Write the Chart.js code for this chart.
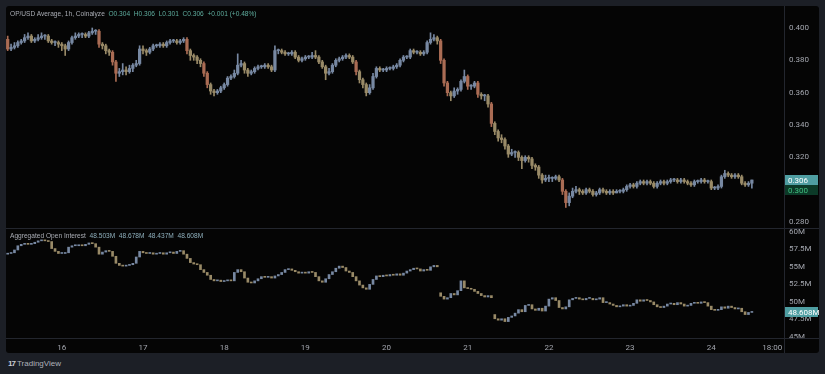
<!DOCTYPE html>
<html><head><meta charset="utf-8">
<script src="https://cdn.jsdelivr.net/npm/chart.js"></script>
<style>
html,body{margin:0;padding:0;background:#1c1f26;width:825px;height:374px;overflow:hidden;font-family:"Liberation Sans",Arial,sans-serif;}
#panel{position:absolute;left:6px;top:6px;width:813px;height:347px;background:#050505;border-radius:3px;}
canvas{position:absolute;left:6px;}
#cTop{top:6px;}
#cBot{top:228px;}
.hline{position:absolute;left:6px;width:813px;height:1px;background:#23262e;}
.vline{position:absolute;left:784px;top:6px;width:1px;height:347px;background:#23262e;}
.hdr{position:absolute;left:10px;font-size:6.6px;color:#a9acb4;white-space:pre;line-height:8px;}
.hdr .v{color:#5fae9f;}
.hdr .w{color:#8fb0bd;}
#foot{position:absolute;left:8px;top:359px;font-size:8px;color:#aeb1b9;white-space:pre;line-height:10px;}
#foot b{font-size:8px;letter-spacing:-1px;color:#c9ccd3;}
</style></head>
<body>
<div id="panel"></div>
<canvas id="cTop" width="813" height="222"></canvas>
<canvas id="cBot" width="813" height="125"></canvas>
<div class="hline" style="top:228px"></div>
<div class="hline" style="top:338px"></div>
<div class="vline"></div>
<div class="hdr" style="top:10px">OP/USD Average, 1h, Coinalyze  <span class="v">O0.304  H0.306  L0.301  C0.306  +0.001 (+0.48%)</span></div>
<div class="hdr" style="top:232px">Aggregated Open Interest  <span class="w">48.503M  48.678M  48.437M  48.608M</span></div>
<div id="foot"><b>17</b> TradingView</div>
<script>
// ---- time axis: hourly candles starting day 15 08:00 ----
const startDay = 15, startHour = 8, slotCount = 230;
const endTickLabel = '18:00';

// ---- OP/USD price (hourly) ----
const priceOpen = [.393,.387,.388,.389,.391,.392,.394,.395,.392,.393,
 .394,.395,.395,.392,.391,.391,.390,.389,.387,.391,
 .394,.395,.396,.396,.395,.397,.398,.398,.390,.389,
 .386,.385,.379,.372,.373,.374,.373,.375,.377,.378,
 .387,.386,.385,.387,.389,.389,.390,.389,.391,.392,
 .392,.391,.392,.393,.386,.383,.382,.380,.378,.372,
 .365,.361,.360,.361,.363,.365,.369,.370,.372,.377,
 .378,.374,.372,.373,.375,.376,.376,.377,.376,.374,
 .386,.386,.385,.384,.384,.385,.382,.380,.381,.382,
 .382,.383,.382,.379,.376,.372,.373,.377,.380,.381,
 .382,.383,.382,.379,.373,.368,.365,.360,.363,.370,
 .375,.374,.374,.375,.375,.376,.377,.380,.382,.382,
 .386,.385,.385,.384,.385,.391,.393,.394,.392,.380,
 .366,.360,.358,.361,.362,.367,.370,.364,.364,.366,
 .359,.358,.358,.353,.341,.336,.332,.331,.327,.322,
 .323,.323,.320,.318,.320,.319,.315,.314,.309,.306,
 .307,.307,.307,.308,.306,.299,.292,.296,.299,.300,
 .299,.298,.300,.299,.297,.298,.300,.299,.298,.299,
 .298,.299,.299,.300,.302,.303,.302,.304,.305,.304,
 .305,.304,.302,.304,.305,.304,.305,.306,.306,.305,
 .306,.305,.304,.303,.305,.305,.306,.305,.305,.301,
 .301,.302,.308,.310,.309,.308,.309,.308,.304,.303,
 .304];
const priceHigh = [.395,.390,.391,.392,.393,.396,.397,.396,.394,.396,
 .397,.396,.396,.393,.392,.392,.391,.390,.392,.395,
 .397,.397,.397,.397,.398,.400,.399,.399,.391,.390,
 .387,.386,.380,.375,.378,.376,.377,.378,.380,.389,
 .389,.387,.388,.390,.390,.391,.391,.392,.393,.393,
 .393,.393,.394,.394,.387,.384,.383,.381,.379,.373,
 .366,.362,.362,.364,.366,.370,.371,.374,.384,.380,
 .379,.375,.374,.376,.377,.377,.378,.378,.377,.389,
 .387,.387,.386,.385,.386,.386,.383,.382,.383,.383,
 .385,.386,.383,.380,.377,.375,.378,.381,.382,.383,
 .384,.384,.383,.380,.374,.369,.366,.365,.372,.376,
 .376,.375,.376,.376,.377,.378,.381,.383,.383,.387,
 .387,.386,.386,.386,.392,.397,.396,.395,.393,.381,
 .367,.361,.363,.363,.368,.374,.371,.365,.367,.367,
 .360,.359,.359,.354,.342,.337,.334,.332,.328,.325,
 .324,.324,.321,.321,.321,.320,.316,.315,.310,.309,
 .309,.308,.309,.309,.307,.300,.298,.301,.302,.301,
 .300,.301,.301,.300,.299,.301,.301,.300,.300,.300,
 .300,.300,.301,.303,.304,.304,.305,.306,.306,.306,
 .306,.305,.305,.306,.306,.306,.307,.307,.307,.307,
 .307,.306,.305,.306,.306,.307,.307,.306,.306,.302,
 .303,.309,.312,.311,.310,.310,.310,.309,.305,.305,
 .306];
const priceLow = [.386,.386,.387,.388,.390,.391,.393,.391,.391,.392,
 .393,.393,.391,.390,.389,.388,.386,.383,.386,.390,
 .393,.394,.394,.394,.394,.396,.396,.388,.387,.384,
 .383,.377,.367,.370,.371,.371,.372,.373,.376,.377,
 .384,.383,.384,.386,.388,.388,.388,.388,.390,.391,
 .390,.390,.391,.384,.380,.380,.378,.376,.370,.363,
 .359,.358,.359,.360,.362,.364,.368,.369,.371,.376,
 .372,.370,.371,.372,.374,.375,.375,.375,.373,.373,
 .384,.384,.383,.383,.383,.381,.379,.379,.380,.381,
 .381,.381,.378,.375,.368,.371,.372,.376,.379,.380,
 .381,.381,.378,.371,.366,.363,.358,.359,.362,.369,
 .373,.373,.373,.374,.374,.375,.376,.379,.381,.381,
 .384,.384,.383,.383,.384,.390,.392,.390,.378,.364,
 .358,.355,.357,.359,.361,.366,.362,.362,.363,.357,
 .356,.355,.351,.339,.334,.330,.329,.325,.320,.321,
 .320,.318,.313,.317,.317,.313,.312,.307,.304,.305,
 .305,.305,.306,.305,.297,.289,.290,.295,.298,.297,
 .297,.297,.298,.296,.296,.297,.298,.297,.297,.297,
 .298,.298,.298,.299,.301,.301,.301,.303,.303,.303,
 .303,.301,.301,.303,.303,.303,.304,.305,.304,.304,
 .304,.303,.302,.302,.304,.304,.304,.304,.300,.300,
 .300,.301,.307,.308,.307,.307,.307,.303,.302,.302,
 .301];
const priceClose = [.387,.388,.389,.391,.392,.394,.395,.392,.393,.394,
 .395,.395,.392,.391,.391,.390,.389,.387,.391,.394,
 .395,.396,.396,.395,.397,.398,.398,.390,.389,.386,
 .385,.379,.372,.373,.374,.373,.375,.377,.378,.387,
 .386,.385,.387,.389,.389,.390,.389,.391,.392,.392,
 .391,.392,.393,.386,.383,.382,.380,.378,.372,.365,
 .361,.360,.361,.363,.365,.369,.370,.372,.377,.378,
 .374,.372,.373,.375,.376,.376,.377,.376,.374,.386,
 .386,.385,.384,.384,.385,.382,.380,.381,.382,.382,
 .383,.382,.379,.376,.372,.373,.377,.380,.381,.382,
 .383,.382,.379,.373,.368,.365,.360,.363,.370,.375,
 .374,.374,.375,.375,.376,.377,.380,.382,.382,.386,
 .385,.385,.384,.385,.391,.393,.394,.392,.380,.366,
 .360,.358,.361,.362,.367,.370,.364,.364,.366,.359,
 .358,.358,.353,.341,.336,.332,.331,.327,.322,.323,
 .323,.320,.318,.320,.319,.315,.314,.309,.306,.307,
 .307,.307,.308,.306,.299,.292,.296,.299,.300,.299,
 .298,.300,.299,.297,.298,.300,.299,.298,.299,.298,
 .299,.299,.300,.302,.303,.302,.304,.305,.304,.305,
 .304,.302,.304,.305,.304,.305,.306,.306,.305,.306,
 .305,.304,.303,.305,.305,.306,.305,.305,.301,.301,
 .302,.308,.310,.309,.308,.309,.308,.304,.303,.304,
 .306];
const priceTicks = [0.28, 0.30, 0.32, 0.34, 0.36, 0.38, 0.40];
const priceMarker = 0.300;

// ---- Aggregated open interest, millions (hourly) ----
const oiOpen = [56.8,56.9,57.0,57.4,58.0,58.2,58.3,58.2,58.3,58.5,
 58.7,58.8,58.7,58.6,57.6,57.2,56.9,56.9,57.0,57.8,
 58.0,58.0,58.1,58.0,58.2,58.4,58.3,57.8,56.8,57.1,
 57.3,57.2,56.5,55.5,55.2,55.1,55.2,55.3,55.5,56.4,
 57.2,57.0,56.9,57.0,56.8,56.9,57.0,56.8,57.0,57.1,
 56.9,57.2,57.3,56.8,56.2,55.6,55.4,55.3,54.6,54.2,
 53.8,53.2,53.0,53.1,52.9,53.0,53.1,53.0,54.2,54.6,
 54.3,53.4,52.8,52.7,53.0,53.3,53.6,53.5,53.6,53.4,
 53.7,53.9,54.2,54.6,54.7,54.5,54.3,54.1,54.2,54.1,
 54.3,54.2,53.6,53.0,52.8,53.3,53.9,54.3,54.8,55.1,
 54.9,54.4,54.2,53.6,53.0,52.4,52.0,51.8,52.5,53.2,
 53.7,53.6,53.8,53.7,53.9,53.8,54.0,53.8,54.1,54.4,
 54.6,54.8,54.7,54.4,54.6,54.5,55.0,55.2,51.3,50.8,
 50.4,50.6,51.2,51.0,51.6,53.0,52.0,51.9,51.8,51.5,
 51.2,50.9,50.7,50.9,48.2,47.6,47.4,47.6,47.2,47.8,
 48.0,48.4,48.9,48.6,49.5,49.6,49.0,48.8,49.1,48.7,
 49.4,50.4,50.6,50.2,49.2,49.0,49.3,50.3,50.5,50.6,
 50.4,50.3,50.5,50.5,50.3,50.4,50.6,49.9,49.9,49.7,
 49.5,49.3,49.4,49.6,49.4,49.5,49.8,50.3,50.1,50.3,
 50.2,50.0,49.6,49.3,49.2,49.4,49.7,49.8,49.6,49.9,
 49.7,49.4,49.5,49.8,49.9,49.8,50.0,49.9,49.4,48.9,
 48.8,48.9,49.3,49.1,49.4,49.2,49.0,49.1,48.6,48.2,
 48.503];
const oiClose = [56.9,57.0,57.4,58.0,58.2,58.3,58.2,58.3,58.5,58.7,
 58.8,58.7,58.6,57.6,57.2,56.9,56.9,57.0,57.8,58.0,
 58.0,58.1,58.0,58.2,58.4,58.3,57.8,56.8,57.1,57.3,
 57.2,56.5,55.5,55.2,55.1,55.2,55.3,55.5,56.4,57.2,
 57.0,56.9,57.0,56.8,56.9,57.0,56.8,57.0,57.1,56.9,
 57.2,57.3,56.8,56.2,55.6,55.4,55.3,54.6,54.2,53.8,
 53.2,53.0,53.1,52.9,53.0,53.1,53.0,54.2,54.6,54.3,
 53.4,52.8,52.7,53.0,53.3,53.6,53.5,53.6,53.4,53.7,
 53.9,54.2,54.6,54.7,54.5,54.3,54.1,54.2,54.1,54.3,
 54.2,53.6,53.0,52.8,53.3,53.9,54.3,54.8,55.1,54.9,
 54.4,54.2,53.6,53.0,52.4,52.0,51.8,52.5,53.2,53.7,
 53.6,53.8,53.7,53.9,53.8,54.0,53.8,54.1,54.4,54.6,
 54.8,54.7,54.4,54.6,54.5,55.0,55.2,55.0,50.8,50.4,
 50.6,51.2,51.0,51.6,53.0,52.0,51.9,51.8,51.5,51.2,
 50.9,50.7,50.9,50.6,47.6,47.4,47.6,47.2,47.8,48.0,
 48.4,48.9,48.6,49.5,49.6,49.0,48.8,49.1,48.7,49.4,
 50.4,50.6,50.2,49.2,49.0,49.3,50.3,50.5,50.6,50.4,
 50.3,50.5,50.5,50.3,50.4,50.6,49.9,49.9,49.7,49.5,
 49.3,49.4,49.6,49.4,49.5,49.8,50.3,50.1,50.3,50.2,
 50.0,49.6,49.3,49.2,49.4,49.7,49.8,49.6,49.9,49.7,
 49.4,49.5,49.8,49.9,49.8,50.0,49.9,49.4,48.9,48.8,
 48.9,49.3,49.1,49.4,49.2,49.0,49.1,48.6,48.2,48.5,
 48.608];
const oiTicks = [45, 47.5, 50, 52.5, 55, 57.5, 60];

// ---- styling ----
const UP = '#7788a2', DOWN = '#998a67', STRONG = '#aa6c54';
const AXIS_TXT = '#a3a6ae';
const pad = n => String(n).padStart(2, '0');
const labels = [];
for (let i = 0; i < slotCount; i++) {
  const h = startHour + i;
  labels.push((startDay + Math.floor(h / 24)) + ' ' + pad(h % 24) + ':00');
}
const lastDay = labels[labels.length - 1].split(' ')[0];
function tickText(lbl) {
  const [d, t] = lbl.split(' ');
  if (t === '00:00') return d;
  if (d === lastDay && t === endTickLabel) return endTickLabel;
  return null;
}
function colors(o, c, big) {
  return o.map((v, i) => c[i] >= v ? UP : ((v - c[i]) >= big ? STRONG : DOWN));
}
function boxPlugin(boxes) {
  return {
    id: 'boxes',
    afterDraw(chart) {
      const y = chart.scales.y, ctx = chart.ctx, r = chart.chartArea.right;
      boxes.forEach(b => {
        const py = Math.round(y.getPixelForValue(b.value));
        ctx.fillStyle = b.bg;
        ctx.fillRect(r + 1, py - 5, chart.width - r - 2, 10);
        ctx.fillStyle = b.fg;
        ctx.font = '8px Roboto';
        ctx.textBaseline = 'middle';
        ctx.textAlign = 'left';
        ctx.fillText(b.text, r + 4, py + 0.5);
      });
    }
  };
}
function baseOpts(yMin, yMax, ticks, fmt, showX) {
  return {
    responsive: false, animation: false, devicePixelRatio: 1,
    layout: { padding: 0 },
    plugins: { legend: { display: false }, tooltip: { enabled: false } },
    scales: {
      x: {
        type: 'category', offset: true, display: showX,
        grid: { display: false, drawTicks: false }, border: { display: false },
        ticks: { autoSkip: false, maxRotation: 0, padding: 5, color: AXIS_TXT, font: { size: 8, family: 'Roboto' } },
        afterBuildTicks: s => { s.ticks = s.ticks.filter(t => tickText(labels[t.value]) !== null); },
        afterTickToLabelConversion: s => { s.ticks.forEach(t => { t.label = tickText(labels[t.value]); }); },
        afterFit: s => { s.height = showX ? 15 : 0; s.paddingLeft = 0; s.paddingRight = 0; }
      },
      y: {
        position: 'right', min: yMin, max: yMax,
        grid: { display: false, drawTicks: false }, border: { display: false },
        ticks: { padding: 5, color: AXIS_TXT, font: { size: 8, family: 'Roboto' }, callback: fmt },
        afterBuildTicks: s => { s.ticks = ticks.map(v => ({ value: v })); },
        afterFit: s => { s.width = 35; s.paddingTop = 0; s.paddingBottom = 0; }
      }
    }
  };
}
function candleData(o, h, l, c, big, bodyW) {
  const col = colors(o, c, big);
  const sets = [{
    data: o.map((v, i) => [v, c[i]]), backgroundColor: col,
    barThickness: bodyW, minBarLength: 1, grouped: false, borderWidth: 0
  }];
  if (h) sets.push({
    data: l.map((v, i) => [v, h[i]]), backgroundColor: col,
    barThickness: 1, grouped: false, borderWidth: 0
  });
  return { labels, datasets: sets };
}

new Chart(document.getElementById('cTop'), {
  type: 'bar',
  data: candleData(priceOpen, priceHigh, priceLow, priceClose, 0.006, 2.6),
  options: baseOpts(0.2763, 0.4136, priceTicks, v => v.toFixed(3), false),
  plugins: [boxPlugin([
    { value: priceClose[priceClose.length - 1], text: priceClose[priceClose.length - 1].toFixed(3), bg: '#4f9ea2', fg: '#ffffff' },
    { value: priceMarker, text: priceMarker.toFixed(3), bg: '#0c3a28', fg: '#3fbf80' }
  ])]
});

new Chart(document.getElementById('cBot'), {
  type: 'bar',
  data: candleData(oiOpen, null, null, oiClose, 99, 2),
  options: baseOpts(44.86, 60.53, oiTicks, v => v + 'M', true),
  plugins: [boxPlugin([
    { value: oiClose[oiClose.length - 1], text: oiClose[oiClose.length - 1].toFixed(3) + 'M', bg: '#4f9ea2', fg: '#ffffff' }
  ])]
});
</script>
</body></html>
